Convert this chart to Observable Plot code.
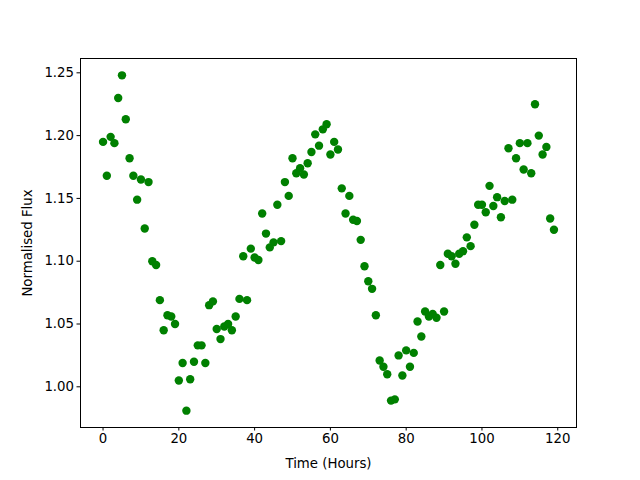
<!DOCTYPE html>
<html>
<head>
<meta charset="utf-8">
<script src="https://cdn.jsdelivr.net/npm/d3@7"></script>
<script src="https://cdn.jsdelivr.net/npm/@observablehq/plot@0.6"></script>
<style>
  html, body { margin: 0; padding: 0; background: #fff; }
  #chart svg { display: block; }
</style>
</head>
<body>
<div id="chart"></div>
<script>
const hours = d3.range(0, 120);
const flux = [
  1.195, 1.168, 1.199, 1.194, 1.230, 1.248, 1.213, 1.182, 1.168, 1.149,
  1.165, 1.126, 1.163, 1.100, 1.097, 1.069, 1.045, 1.057, 1.056, 1.050,
  1.005, 1.019, 0.981, 1.006, 1.020, 1.033, 1.033, 1.019, 1.065, 1.068,
  1.046, 1.038, 1.048, 1.050, 1.045, 1.056, 1.070, 1.104, 1.069, 1.110,
  1.103, 1.101, 1.138, 1.122, 1.111, 1.115, 1.145, 1.116, 1.163, 1.152,
  1.182, 1.170, 1.174, 1.169, 1.178, 1.187, 1.201, 1.192, 1.205, 1.209,
  1.185, 1.195, 1.189, 1.158, 1.138, 1.152, 1.133, 1.132, 1.117, 1.096,
  1.084, 1.078, 1.057, 1.021, 1.016, 1.010, 0.989, 0.990, 1.025, 1.009,
  1.029, 1.016, 1.027, 1.052, 1.040, 1.060, 1.056, 1.058, 1.055, 1.097,
  1.060, 1.106, 1.104, 1.098, 1.106, 1.108, 1.119, 1.112, 1.129, 1.145,
  1.145, 1.139, 1.160, 1.144, 1.151, 1.135, 1.148, 1.190, 1.149, 1.182,
  1.194, 1.173, 1.194, 1.170, 1.225, 1.200, 1.185, 1.191, 1.134, 1.125
];
const xTicks = [0, 20, 40, 60, 80, 100, 120];
const yTicks = [1.00, 1.05, 1.10, 1.15, 1.20, 1.25];

const data = hours.map((h, i) => ({hour: h, flux: flux[i]}));

const chart = Plot.plot({
  width: 640,
  height: 480,
  marginLeft: 80,
  marginRight: 64,
  marginTop: 58,
  marginBottom: 53,
  style: {fontFamily: "DejaVu Sans", fontSize: "13.3px", color: "black", background: "white"},
  x: {domain: [-5.95, 124.95]},
  y: {domain: [0.9676, 1.2614]},
  marks: [
    Plot.frame({stroke: "black", strokeWidth: 1}),
    Plot.axisX({ticks: xTicks, tickSize: 3.5, tickPadding: 3, label: "Time (Hours)", labelAnchor: "center", labelArrow: "none", labelOffset: 40, fontSize: 13.3}),
    Plot.axisY({ticks: yTicks, tickSize: 3.5, tickPadding: 3, tickFormat: d3.format(".2f"), label: "Normalised Flux", labelAnchor: "center", labelArrow: "none", labelOffset: 58, fontSize: 13.3}),
    Plot.dot(data, {x: "hour", y: "flux", r: 4.2, fill: "green", stroke: "none"})
  ]
});
document.getElementById("chart").appendChild(chart);
</script>
</body>
</html>
